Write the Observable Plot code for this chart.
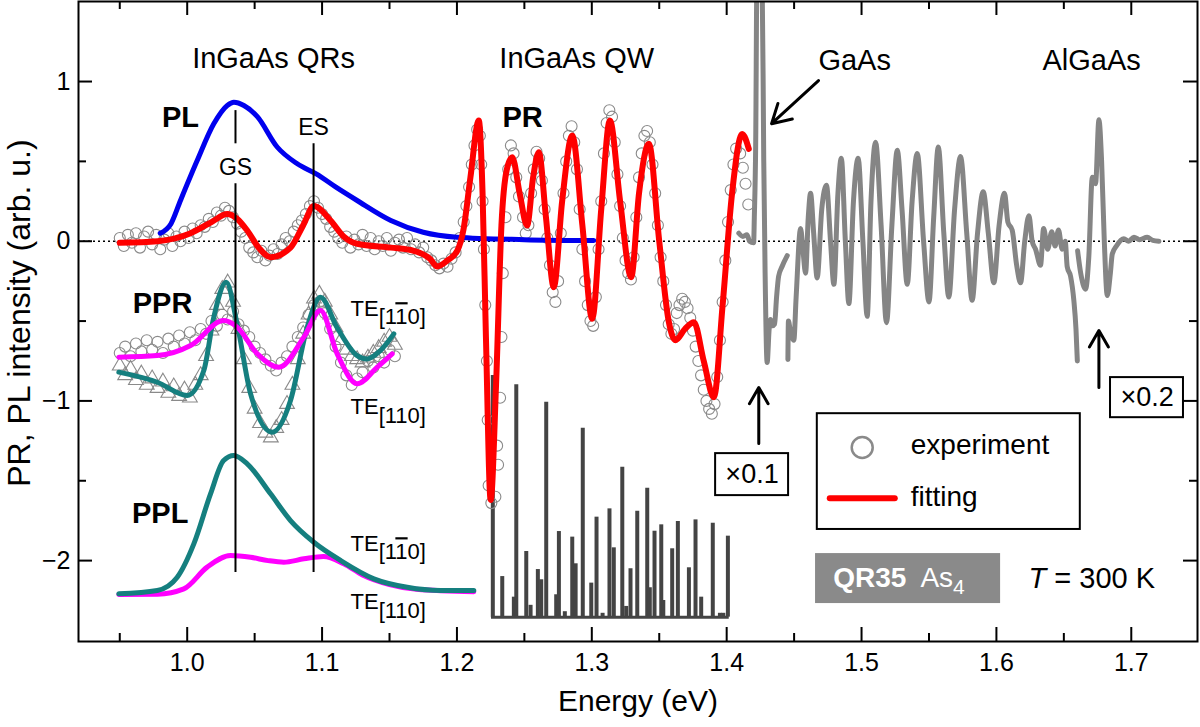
<!DOCTYPE html>
<html><head><meta charset="utf-8">
<script src="https://cdn.jsdelivr.net/npm/d3@7"></script>
<script src="https://cdn.jsdelivr.net/npm/@observablehq/plot@0.6"></script>
<style>body{margin:0;background:#fff} svg{display:block}</style>
</head><body><div id="chart"></div>
<script>
// ---------- axis ticks ----------
const xTicks = [1.0, 1.1, 1.2, 1.3, 1.4, 1.5, 1.6, 1.7];
const xMinor = [0.95, 1.05, 1.15, 1.25, 1.35, 1.45, 1.55, 1.65];
const yTicks = [-2, -1, 0, 1];
const yMinor = [-1.5, -0.5, 0.5];

// ---------- PL (blue) ----------
const plFit = [[0.980,0.05],[0.988,0.11],[0.995,0.255],[1.0074,0.505],[1.0197,0.735],[1.0297,0.85],[1.0346,0.87],[1.042,0.85],[1.052,0.78],[1.0667,0.59],[1.0816,0.485],[1.096,0.42],[1.110,0.34],[1.126,0.255],[1.151,0.13],[1.175,0.056],[1.200,0.025],[1.250,0.01],[1.3015,0.004]];

// ---------- PR fit (red) ----------
const prFit = [[0.950,-0.01],[0.978,0.0],[1.0025,0.05],[1.018,0.12],[1.0297,0.17],[1.037,0.14],[1.0445,0.067],[1.053,-0.04],[1.0618,-0.10],[1.0766,-0.04],[1.086,0.10],[1.0939,0.22],[1.1063,0.13],[1.116,0.03],[1.126,-0.016],[1.151,-0.04],[1.168,-0.06],[1.180,-0.11],[1.1854,-0.158],[1.193,-0.12],[1.2002,-0.06],[1.205,0.08],[1.210,0.40],[1.2162,0.756],[1.219,0.3],[1.2215,-0.6],[1.225,-1.62],[1.229,-0.9],[1.233,0.1],[1.237,0.45],[1.241,0.526],[1.2465,0.30],[1.252,0.098],[1.2565,0.40],[1.2607,0.557],[1.266,0.15],[1.2718,-0.288],[1.278,0.25],[1.2855,0.662],[1.293,0.1],[1.3003,-0.486],[1.307,0.2],[1.3134,0.756],[1.321,0.25],[1.3292,-0.225],[1.335,0.3],[1.3423,0.61],[1.350,0.0],[1.357,-0.5],[1.362,-0.62],[1.369,-0.55],[1.3757,-0.507],[1.383,-0.75],[1.3905,-0.977],[1.397,-0.4],[1.404,0.3],[1.4115,0.672],[1.4164,0.578]];

// ---------- PR experiment (circles) ----------
const prExp = [[0.950,0.02],[0.953,-0.03],[0.956,0.04],[0.959,-0.01],[0.962,0.05],[0.965,-0.04],[0.968,0.03],[0.971,0.06],[0.974,-0.02],[0.977,0.04],[0.980,-0.05],[0.983,0.01],[0.986,0.05],[0.989,-0.03],[0.992,0.03],[0.995,0.0],[0.998,0.06],[1.001,0.02],[1.004,0.08],[1.007,0.05],[1.010,0.10],[1.013,0.09],[1.016,0.14],[1.019,0.12],[1.022,0.18],[1.025,0.16],[1.028,0.21],[1.031,0.19],[1.034,0.15],[1.037,0.11],[1.040,0.06],[1.043,0.02],[1.046,-0.04],[1.049,-0.07],[1.052,-0.10],[1.055,-0.06],[1.058,-0.12],[1.061,-0.09],[1.064,-0.05],[1.067,-0.08],[1.070,-0.02],[1.073,0.02],[1.076,0.0],[1.079,0.06],[1.082,0.10],[1.085,0.13],[1.088,0.17],[1.091,0.22],[1.094,0.25],[1.097,0.21],[1.100,0.17],[1.103,0.14],[1.106,0.09],[1.109,0.06],[1.112,0.02],[1.115,-0.01],[1.118,0.03],[1.121,-0.04],[1.124,0.01],[1.127,-0.02],[1.130,0.04],[1.133,-0.03],[1.136,0.02],[1.139,-0.05],[1.142,0.0],[1.145,-0.03],[1.148,0.02],[1.151,-0.06],[1.154,-0.01],[1.157,0.01],[1.160,-0.04],[1.163,0.02],[1.166,-0.05],[1.169,-0.02],[1.172,-0.07],[1.175,-0.04],[1.178,-0.10],[1.181,-0.12],[1.184,-0.15],[1.187,-0.17],[1.190,-0.14],[1.193,-0.16],[1.196,-0.11],[1.199,-0.07],[1.202,0.02],[1.205,0.12],[1.207,0.22],[1.209,0.34],[1.211,0.48],[1.213,0.60],[1.215,0.70],[1.217,0.66],[1.218,0.48],[1.219,0.25],[1.220,-0.05],[1.221,-0.40],[1.2222,-0.75],[1.2228,-1.12],[1.2235,-1.53],[1.2255,-1.64],[1.2285,-1.60],[1.2305,-1.40],[1.2298,-1.28],[1.232,-0.98],[1.233,-0.60],[1.234,-0.20],[1.236,0.15],[1.238,0.45],[1.240,0.60],[1.242,0.55],[1.244,0.40],[1.246,0.28],[1.249,0.15],[1.251,0.05],[1.253,0.10],[1.255,0.30],[1.257,0.45],[1.259,0.56],[1.261,0.52],[1.263,0.38],[1.265,0.20],[1.267,0.02],[1.269,-0.15],[1.271,-0.32],[1.273,-0.38],[1.275,-0.25],[1.277,0.05],[1.279,0.30],[1.281,0.50],[1.283,0.66],[1.285,0.72],[1.287,0.62],[1.289,0.45],[1.291,0.20],[1.293,-0.05],[1.295,-0.25],[1.297,-0.40],[1.299,-0.50],[1.301,-0.53],[1.303,-0.35],[1.305,-0.05],[1.307,0.25],[1.309,0.55],[1.311,0.74],[1.313,0.82],[1.315,0.78],[1.317,0.62],[1.319,0.42],[1.321,0.22],[1.323,0.02],[1.325,-0.12],[1.327,-0.20],[1.329,-0.24],[1.331,-0.10],[1.333,0.15],[1.335,0.40],[1.337,0.55],[1.339,0.66],[1.341,0.69],[1.343,0.62],[1.345,0.48],[1.347,0.30],[1.349,0.10],[1.351,-0.10],[1.353,-0.25],[1.355,-0.40],[1.357,-0.52],[1.359,-0.58],[1.361,-0.55],[1.363,-0.45],[1.365,-0.40],[1.367,-0.36],[1.369,-0.38],[1.371,-0.42],[1.373,-0.48],[1.375,-0.56],[1.377,-0.66],[1.379,-0.75],[1.381,-0.84],[1.383,-0.93],[1.385,-1.00],[1.387,-1.05],[1.389,-1.08],[1.391,-1.02],[1.393,-0.85],[1.395,-0.62],[1.397,-0.38],[1.399,-0.12],[1.401,0.12],[1.403,0.32],[1.405,0.48],[1.407,0.58],[1.410,0.55],[1.412,0.46],[1.414,0.36],[1.416,0.23]];

// ---------- PPR ----------
const pprMagFit = [[0.9493,-0.726],[0.9778,-0.716],[1.0025,-0.653],[1.0271,-0.497],[1.037,-0.538],[1.052,-0.705],[1.068,-0.789],[1.0865,-0.601],[1.0988,-0.434],[1.1112,-0.705],[1.126,-0.893],[1.1409,-0.789],[1.152,-0.705]];
const pprTealFit = [[0.9493,-0.82],[0.9778,-0.883],[1.000,-0.966],[1.0123,-0.81],[1.0197,-0.476],[1.0289,-0.257],[1.037,-0.517],[1.047,-0.956],[1.063,-1.196],[1.0766,-0.997],[1.089,-0.538],[1.0988,-0.351],[1.111,-0.538],[1.126,-0.716],[1.1335,-0.737],[1.1433,-0.684],[1.1532,-0.58]];
const pprCircles = [[0.950,-0.70],[0.954,-0.66],[0.958,-0.72],[0.962,-0.64],[0.966,-0.69],[0.970,-0.62],[0.974,-0.68],[0.978,-0.63],[0.982,-0.70],[0.986,-0.61],[0.990,-0.66],[0.994,-0.59],[0.998,-0.64],[1.002,-0.57],[1.006,-0.62],[1.010,-0.55],[1.014,-0.58],[1.018,-0.50],[1.022,-0.53],[1.026,-0.46],[1.030,-0.49],[1.034,-0.44],[1.038,-0.52],[1.042,-0.56],[1.046,-0.60],[1.050,-0.66],[1.054,-0.70],[1.058,-0.74],[1.062,-0.78],[1.066,-0.81],[1.070,-0.76],[1.074,-0.72],[1.078,-0.66],[1.082,-0.60],[1.086,-0.54],[1.090,-0.46],[1.094,-0.40],[1.098,-0.38],[1.102,-0.45],[1.106,-0.55],[1.110,-0.66],[1.114,-0.76],[1.118,-0.84],[1.122,-0.90],[1.126,-0.86],[1.130,-0.82],[1.134,-0.75],[1.138,-0.79],[1.142,-0.72],[1.146,-0.76],[1.150,-0.68],[1.154,-0.72]];
const pprTriangles = [[0.950,-0.78],[0.954,-0.84],[0.958,-0.80],[0.962,-0.87],[0.966,-0.83],[0.970,-0.90],[0.974,-0.86],[0.978,-0.92],[0.982,-0.88],[0.986,-0.95],[0.990,-0.91],[0.994,-0.97],[0.998,-0.93],[1.002,-0.98],[1.006,-0.90],[1.010,-0.84],[1.014,-0.72],[1.018,-0.56],[1.022,-0.40],[1.026,-0.30],[1.030,-0.26],[1.034,-0.38],[1.038,-0.55],[1.042,-0.74],[1.046,-0.92],[1.050,-1.05],[1.054,-1.14],[1.058,-1.20],[1.062,-1.23],[1.066,-1.17],[1.070,-1.12],[1.074,-1.02],[1.078,-0.90],[1.082,-0.74],[1.086,-0.58],[1.090,-0.46],[1.094,-0.36],[1.098,-0.33],[1.102,-0.38],[1.106,-0.46],[1.110,-0.54],[1.114,-0.62],[1.118,-0.68],[1.122,-0.72],[1.126,-0.74],[1.130,-0.76],[1.134,-0.73],[1.138,-0.70],[1.142,-0.67],[1.146,-0.63],[1.150,-0.60],[1.154,-0.65]];

// ---------- PPL ----------
const pplTeal = [[0.9493,-2.208],[0.9778,-2.187],[0.9926,-2.104],[1.0049,-1.895],[1.0173,-1.582],[1.027,-1.373],[1.0346,-1.342],[1.0445,-1.394],[1.0618,-1.582],[1.0766,-1.749],[1.0939,-1.885],[1.1137,-1.999],[1.1384,-2.114],[1.1631,-2.167],[1.1878,-2.187],[1.2125,-2.187]];
const pplMag = [[0.9493,-2.212],[0.978,-2.21],[0.9975,-2.177],[1.0148,-2.041],[1.0321,-1.968],[1.047,-1.979],[1.060,-2.0],[1.0716,-2.01],[1.0865,-1.989],[1.101,-1.974],[1.1161,-2.02],[1.13,-2.09],[1.15,-2.15],[1.17,-2.18],[1.2125,-2.195]];

// ---------- state markers ----------
const gsE = 1.0358, esE = 1.0937;

// ---------- calculated transitions (bars) ----------
const barBase = -2.354;
const bars = [[1.2266,-0.841],[1.2336,-2.10],[1.2422,-2.229],[1.2440,-0.899],[1.2514,-1.943],[1.2546,-2.28],[1.2600,-2.056],[1.2625,-2.12],[1.2662,-1.008],[1.2736,-2.214],[1.2756,-1.818],[1.2800,-2.32],[1.2855,-1.853],[1.2880,-2.02],[1.2933,-1.171],[1.2996,-2.141],[1.3035,-1.728],[1.3080,-2.33],[1.3131,-1.676],[1.3163,-1.92],[1.3226,-1.415],[1.3255,-2.287],[1.3287,-2.051],[1.3337,-1.691],[1.3411,-1.547],[1.3430,-2.17],[1.3465,-1.816],[1.3515,-1.776],[1.3530,-2.25],[1.3596,-1.926],[1.3638,-1.755],[1.3720,-2.045],[1.3769,-1.745],[1.3811,-2.229],[1.3897,-1.766],[1.3950,-2.33],[1.3975,-2.33],[1.4009,-1.847]];

// ---------- GaAs / AlGaAs PR (gray, scaled) ----------
const gaas = [[1.409,0.05],[1.412,0.03],[1.415,0.04],[1.417,0.0],[1.420,-0.01],[1.4205,0.15],[1.4215,0.6],[1.4225,1.7],[1.4262,1.7],[1.4275,0.5],[1.4285,-0.2],[1.4300,-0.76],[1.4315,-0.55],[1.4325,-0.49],[1.434,-0.53],[1.4355,-0.52],[1.437,-0.35],[1.4385,-0.22],[1.441,-0.16],[1.4449,-0.09],[1.4451,NaN],
[1.4454,-0.74],[1.4458,-0.50],[1.447,-0.55],[1.4498,-0.62],[1.4515,-0.35],[1.4548,0.08],[1.4565,-0.05],[1.4585,-0.20],[1.4605,0.15],[1.4622,0.30],[1.4645,0.05],[1.4671,-0.23],[1.4705,0.20],[1.474,0.35],[1.477,0.0],[1.4795,-0.27],[1.4825,0.30],[1.485,0.52],[1.488,0.0],[1.4906,-0.39],[1.494,0.25],[1.4975,0.52],[1.501,0.0],[1.5042,-0.47],[1.507,0.25],[1.5104,0.62],[1.5145,0.1],[1.5185,-0.51],[1.5225,0.1],[1.5265,0.57],[1.530,0.2],[1.5339,-0.27],[1.5375,0.25],[1.5413,0.55],[1.546,0.0],[1.550,-0.38],[1.5535,0.15],[1.5569,0.59],[1.561,0.05],[1.5647,-0.35],[1.569,0.2],[1.5734,0.53],[1.578,0.05],[1.582,-0.37],[1.586,0.05],[1.5902,0.31],[1.594,0.05],[1.5981,-0.26],[1.602,0.1],[1.606,0.30],[1.6085,0.12],[1.6117,0.07],[1.615,-0.15],[1.6179,-0.26],[1.621,0.0],[1.6241,0.16],[1.6265,0.0],[1.629,-0.05],[1.6327,-0.15],[1.635,0.08],[1.638,-0.05],[1.641,0.06],[1.6435,-0.03],[1.646,0.07],[1.6488,-0.05],[1.651,0.0],[1.6525,-0.16],[1.655,-0.22],[1.6574,-0.37],[1.659,-0.55],[1.660,-0.75],[1.6601,NaN],
[1.6602,-0.06],[1.6625,-0.2],[1.6661,-0.30],[1.6685,-0.1],[1.6711,0.40],[1.6735,0.36],[1.676,0.76],[1.678,0.5],[1.680,0.0],[1.6822,-0.34],[1.6845,-0.2],[1.6859,-0.08],[1.689,-0.03],[1.6945,0.015],[1.698,0.0],[1.702,0.025],[1.706,0.01],[1.7118,0.025],[1.716,0.005],[1.7205,0.0]];

// ---------- text labels ----------
const regionLabels = [
  {x:1.064, y:1.144, t:"InGaAs QRs"},
  {x:1.2888, y:1.144, t:"InGaAs QW"},
  {x:1.4949, y:1.131, t:"GaAs"},
  {x:1.6706, y:1.131, t:"AlGaAs"}];
const boldLabels = [
  {x:0.995, y:0.775, t:"PL"},
  {x:1.2487, y:0.775, t:"PR"},
  {x:0.9817, y:-0.39, t:"PPR"},
  {x:0.980, y:-1.705, t:"PPL"}];
const stateLabels = [{x:gsE, y:0.461, t:"GS"}, {x:esE, y:0.712, t:"ES"}];
const teLabels = [
  {x:1.1211, y:-0.423, t:"TE[1-10]"},
  {x:1.1211, y:-1.04, t:"TE[110]"},
  {x:1.1211, y:-1.895, t:"TE[1-10]"},
  {x:1.1211, y:-2.26, t:"TE[110]"}];

const F = d => d[0], G = d => d[1];
const red = "#ff0000", blue = "#0000ee", mag = "#ff00ff", teal = "#157f7f", grayC = "#8a8a8a";
const font = "'Liberation Sans', Arial, sans-serif";
const yFmt = d => d < 0 ? "\u2212" + (-d) : String(d);

const plot = Plot.plot({
  width: 1200, height: 727,
  marginLeft: 78, marginRight: 3, marginTop: 1, marginBottom: 86,
  x: {domain: [0.9194, 1.7491]},
  y: {domain: [-2.5066, 1.5012]},
  style: {fontFamily: font, color: "black", background: "white"},
  marks: [
    Plot.ruleY([0], {stroke: "black", strokeWidth: 1.5, strokeDasharray: "2,3"}),
    // bars
    Plot.ruleY([barBase], {x1: d3.min(bars, F) - 0.001, x2: d3.max(bars, F) + 0.001, stroke: "#444", strokeWidth: 3}),
    Plot.ruleX(bars, {x: F, y1: barBase, y2: G, stroke: "#444", strokeWidth: 4}),
    // GaAs
    Plot.line(gaas, {x: F, y: G, stroke: "#858585", strokeWidth: 5, clip: true, curve: "monotone-x"}),
    // experiment
    Plot.dot(prExp, {x: F, y: G, r: 5.5, stroke: grayC, strokeWidth: 1.1, fill: "none"}),
    Plot.dot(pprCircles, {x: F, y: G, r: 5.5, stroke: grayC, strokeWidth: 1.1, fill: "none"}),
    Plot.dot(pprTriangles, {x: F, y: G, r: 5.5, symbol: "triangle", stroke: grayC, strokeWidth: 1.1, fill: "none"}),
    // fits
    Plot.line(plFit, {x: F, y: G, stroke: blue, strokeWidth: 5, curve: "monotone-x"}),
    Plot.line(prFit, {x: F, y: G, stroke: red, strokeWidth: 6, curve: "monotone-x"}),
    Plot.line(pprTealFit, {x: F, y: G, stroke: teal, strokeWidth: 5, curve: "monotone-x"}),
    Plot.line(pprMagFit, {x: F, y: G, stroke: mag, strokeWidth: 5, curve: "monotone-x"}),
    Plot.line(pplMag, {x: F, y: G, stroke: mag, strokeWidth: 5, curve: "monotone-x"}),
    Plot.line(pplTeal, {x: F, y: G, stroke: teal, strokeWidth: 5, curve: "monotone-x"}),
    // GS / ES lines
    Plot.ruleX([gsE], {y1: 0.818, y2: 0.61, stroke: "black", strokeWidth: 2}),
    Plot.ruleX([gsE], {y1: 0.36, y2: -2.075, stroke: "black", strokeWidth: 2}),
    Plot.ruleX([esE], {y1: 0.61, y2: -2.075, stroke: "black", strokeWidth: 2}),
    // labels
    Plot.text(regionLabels, {x: "x", y: "y", text: "t", fontSize: 29}),
    Plot.text(boldLabels, {x: "x", y: "y", text: "t", fontSize: 29, fontWeight: "bold"}),
    Plot.text(stateLabels, {x: "x", y: "y", text: "t", fontSize: 23}),
    Plot.text(teLabels, {x: "x", y: "y", text: "t", fontSize: 22, textAnchor: "start"}),
    // arrows
    Plot.arrow([{x1: 1.4681, y1: 1.006, x2: 1.4333, y2: 0.736}], {x1: "x1", y1: "y1", x2: "x2", y2: "y2", stroke: "black", strokeWidth: 3, headLength: 18}),
    Plot.arrow([{x1: 1.4238, y1: -1.267, x2: 1.4238, y2: -0.916}], {x1: "x1", y1: "y1", x2: "x2", y2: "y2", stroke: "black", strokeWidth: 3, headLength: 18}),
    Plot.arrow([{x1: 1.676, y1: -0.916, x2: 1.676, y2: -0.559}], {x1: "x1", y1: "y1", x2: "x2", y2: "y2", stroke: "black", strokeWidth: 3, headLength: 18}),
    // multiplier boxes
    Plot.rect([{x1: 1.3918, x2: 1.4459, y1: -1.330, y2: -1.593}], {x1: "x1", x2: "x2", y1: "y1", y2: "y2", fill: "white", stroke: "black", strokeWidth: 2}),
    Plot.text(["×0.1"], {x: 1.4188, y: -1.461, text: d => d, fontSize: 27}),
    Plot.rect([{x1: 1.6846, x2: 1.7387, y1: -0.854, y2: -1.105}], {x1: "x1", x2: "x2", y1: "y1", y2: "y2", fill: "white", stroke: "black", strokeWidth: 2}),
    Plot.text(["×0.2"], {x: 1.7117, y: -0.979, text: d => d, fontSize: 27}),
    // legend
    Plot.rect([{x1: 1.4672, x2: 1.6622, y1: -1.08, y2: -1.805}], {x1: "x1", x2: "x2", y1: "y1", y2: "y2", fill: "white", stroke: "black", strokeWidth: 2}),
    Plot.dot([{x: 1.5005, y: -1.292}], {x: "x", y: "y", r: 10.5, stroke: grayC, strokeWidth: 2.5, fill: "none"}),
    Plot.ruleY([-1.609], {x1: 1.4768, x2: 1.5250, stroke: red, strokeWidth: 6, strokeLinecap: "round"}),
    Plot.text(["experiment", "fitting"], {x: 1.5365, y: (d, i) => i === 0 ? -1.279 : -1.600, text: d => d, fontSize: 28, textAnchor: "start"}),
    // sample box
    Plot.rect([{x1: 1.4659, x2: 1.6031, y1: -1.956, y2: -2.269}], {x1: "x1", x2: "x2", y1: "y1", y2: "y2", fill: "#8a8a8a"}),
    Plot.text(["QR35 As4"], {x: 1.479, y: -2.112, text: d => d, fontSize: 28, fill: "white", textAnchor: "start"}),
    Plot.text(["T = 300 K"], {x: 1.6238, y: -2.112, text: d => d, fontSize: 29, textAnchor: "start"}),
    // frame + ticks
    Plot.frame({stroke: "black", strokeWidth: 2}),
    Plot.ruleX(xTicks, {x: d => d, insetTop: 626, stroke: "black", strokeWidth: 2}),
    Plot.ruleX(xTicks, {x: d => d, insetBottom: 626, stroke: "black", strokeWidth: 2}),
    Plot.ruleX(xMinor, {x: d => d, insetTop: 632, stroke: "black", strokeWidth: 2}),
    Plot.ruleX(xMinor, {x: d => d, insetBottom: 632, stroke: "black", strokeWidth: 2}),
    Plot.ruleY(yTicks, {y: d => d, insetRight: 1105, stroke: "black", strokeWidth: 2}),
    Plot.ruleY(yTicks, {y: d => d, insetLeft: 1105, stroke: "black", strokeWidth: 2}),
    Plot.ruleY(yMinor, {y: d => d, insetRight: 1111, stroke: "black", strokeWidth: 2}),
    Plot.ruleY(yMinor, {y: d => d, insetLeft: 1111, stroke: "black", strokeWidth: 2}),
    Plot.axisX(xTicks, {tickSize: 0, tickPadding: 12, tickFormat: d3.format(".1f"), fontSize: 25, label: null}),
    Plot.axisY(yTicks, {tickSize: 0, tickPadding: 8, tickFormat: yFmt, fontSize: 25, label: null}),
    Plot.text(["Energy (eV)"], {frameAnchor: "bottom", dy: 69, text: d => d, fontSize: 30}),
    Plot.text(["PR, PL intensity (arb. u.)"], {y: () => -0.45, frameAnchor: "left", textAnchor: "middle", rotate: -90, dx: -59, text: d => d, fontSize: 32})
  ]
});

// rich text: subscripts, overline, italic, bold
d3.select(plot).selectAll("text").each(function () {
  const s = this.textContent;
  const t = d3.select(this);
  if (s === "TE[1-10]" || s === "TE[110]") {
    t.text("");
    t.append("tspan").text("TE");
    t.append("tspan").attr("dy", "0.38em").text("[1");
    t.append("tspan").style("text-decoration", s === "TE[1-10]" ? "overline" : "none").text("1");
    t.append("tspan").text("0]");
  } else if (s === "QR35 As4") {
    t.text("");
    t.append("tspan").attr("font-weight", "bold").text("QR35");
    t.append("tspan").attr("dx", 14).text("As");
    t.append("tspan").attr("dy", "0.3em").attr("font-size", "0.75em").text("4");
  } else if (s === "T = 300 K") {
    t.text("");
    t.append("tspan").attr("font-style", "italic").text("T");
    t.append("tspan").text(" = 300 K");
  }
});
document.getElementById("chart").appendChild(plot);
</script>
</body></html>
